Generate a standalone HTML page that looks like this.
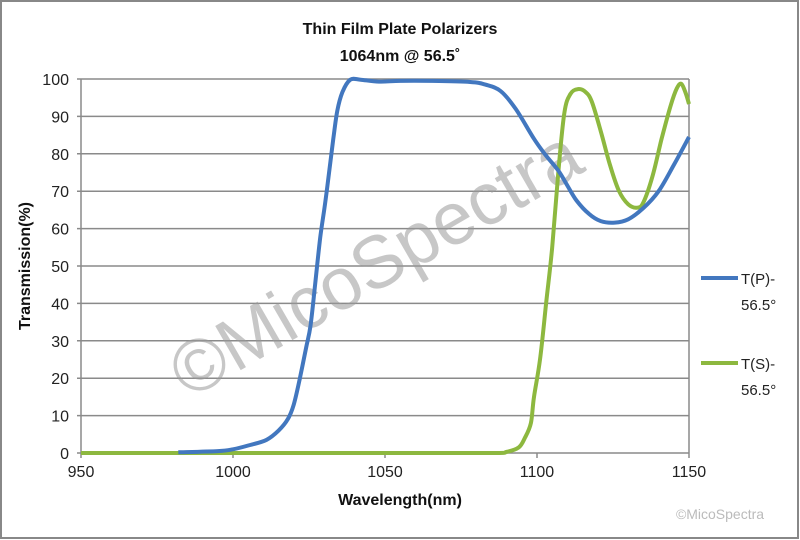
<!DOCTYPE html>
<html><head><meta charset="utf-8"><style>
html,body{margin:0;padding:0;background:#fff}
#wrap{position:relative;width:800px;height:540px;overflow:hidden}
svg text{font-family:"Liberation Sans","Noto Sans CJK SC",sans-serif}
</style></head><body>
<div id="wrap">
<svg id="chart" width="800" height="540" xmlns="http://www.w3.org/2000/svg">
<rect x="1" y="1" width="797" height="537" fill="#fff" stroke="#888" stroke-width="2"/>
<text x="400" y="34" text-anchor="middle" font-size="16" font-weight="bold" fill="#111">Thin Film Plate Polarizers</text>
<text x="400" y="61" text-anchor="middle" font-size="16" font-weight="bold" fill="#111">1064nm @ 56.5˚</text>
<g id="grid"></g>
<g id="axes"></g>
<text x="388" y="285" text-anchor="middle" font-size="74" fill="#999" fill-opacity="0.55" transform="rotate(-30 388 285)" textLength="460" lengthAdjust="spacingAndGlyphs">©MicoSpectra</text>
<g id="series"></g>
<text x="400" y="505" text-anchor="middle" font-size="16" font-weight="bold" fill="#111">Wavelength(nm)</text>
<text x="30" y="266" text-anchor="middle" font-size="16" font-weight="bold" fill="#111" transform="rotate(-90 30 266)">Transmission(%)</text>
<g>
<g>
<line x1="701" y1="278" x2="738" y2="278" stroke="#4277BF" stroke-width="4"/>
<text x="741" y="284" font-size="15" fill="#222">T(P)-</text>
<text x="741" y="310" font-size="15" fill="#222">56.5°</text>
</g>
<g>
<line x1="701" y1="363" x2="738" y2="363" stroke="#8DB83F" stroke-width="4"/>
<text x="741" y="369" font-size="15" fill="#222">T(S)-</text>
<text x="741" y="395" font-size="15" fill="#222">56.5°</text>
</g>
</g>
<text x="720" y="519" text-anchor="middle" font-size="14" fill="#bbb">©MicoSpectra</text>
</svg>
</div>
<script>
const xTicks=[950,1000,1050,1100,1150];
const yTicks=[0,10,20,30,40,50,60,70,80,90,100];
const tpWl=[982,995,1000,1005,1011,1015,1018,1020,1022,1024,1025.5,1027,1028.7,1030,1031,1033,1034.3,1036,1038.6,1042,1048,1055,1065,1078,1083,1088,1093,1099,1103,1107,1110,1113,1117,1121,1125.6,1130,1135,1140,1145,1150];
const tpVal=[0.2,0.5,1,2,3.5,6,9,13,20,28,34,45,57.6,65,71,84,91.5,96.5,99.8,99.8,99.3,99.5,99.5,99.2,98.5,96.8,92,84,79.5,75.5,71.5,67.5,64,62,61.6,62.5,65.5,70,77,84.5];
const tsWl=[950,1000,1050,1085,1090,1094,1096,1098,1099,1101,1103,1105,1107,1109,1111,1113.5,1116,1118,1121,1124,1127,1130,1133,1135,1138,1141,1144,1146,1147.5,1149,1150];
const tsVal=[0,0,0,0,0.3,1.5,4,8,15,25,40,55,75,91,96,97.3,96.5,94,86,77,70,66.5,65.6,67,74,84,93,97.5,98.7,96,93.3];
const L=81,R=689,T=79,B=453;
const xs=v=>L+(v-950)/200*(R-L);
const ys=v=>B-v/100*(B-T);
const NS="http://www.w3.org/2000/svg";
const grid=document.getElementById('grid'),axes=document.getElementById('axes'),ser=document.getElementById('series');
function mk(tag,attrs,parent){const e=document.createElementNS(NS,tag);for(const k in attrs)e.setAttribute(k,attrs[k]);parent.appendChild(e);return e;}
yTicks.forEach(v=>{
  const g=mk('line',{x1:L-4,x2:R,y1:ys(v),y2:ys(v),stroke:'#8a8a8a','stroke-width':1.5},grid);
  
  
  const t=mk('text',{x:L-12,y:ys(v)+6,'text-anchor':'end','font-size':16,fill:'#222'},axes);
  t.textContent=v;
  
  
});
const ya=mk('line',{x1:L,x2:L,y1:T,y2:B,stroke:'#8a8a8a','stroke-width':1.5},axes);


const xa=mk('line',{x1:R,x2:R,y1:T,y2:B,stroke:'#8a8a8a','stroke-width':1.5},axes);


xTicks.forEach(v=>{
  const tk=mk('line',{x1:xs(v),x2:xs(v),y1:B,y2:B+5,stroke:'#8a8a8a','stroke-width':1.5},axes);
  
  
  const t=mk('text',{x:xs(v),y:B+24,'text-anchor':'middle','font-size':16,fill:'#222'},axes);
  t.textContent=v;
  
  
});
function path(wl,val){
  const p=wl.map((w,i)=>[xs(w),ys(val[i])]);
  let d='M'+p[0][0].toFixed(1)+','+p[0][1].toFixed(1);
  for(let i=0;i<p.length-1;i++){
    const p0=p[Math.max(0,i-1)],p1=p[i],p2=p[i+1],p3=p[Math.min(p.length-1,i+2)];
    const c1x=p1[0]+(p2[0]-p0[0])/6,c1y=p1[1]+(p2[1]-p0[1])/6;
    const c2x=p2[0]-(p3[0]-p1[0])/6,c2y=p2[1]-(p3[1]-p1[1])/6;
    d+=' C'+c1x.toFixed(1)+','+c1y.toFixed(1)+' '+c2x.toFixed(1)+','+c2y.toFixed(1)+' '+p2[0].toFixed(1)+','+p2[1].toFixed(1);
  }
  return d;
}
const ps=mk('path',{d:path(tsWl,tsVal),fill:'none',stroke:'#8DB83F','stroke-width':4,'stroke-linejoin':'round'},ser);


const pp=mk('path',{d:path(tpWl,tpVal),fill:'none',stroke:'#4277BF','stroke-width':4,'stroke-linejoin':'round'},ser);


</script>
</body></html>
